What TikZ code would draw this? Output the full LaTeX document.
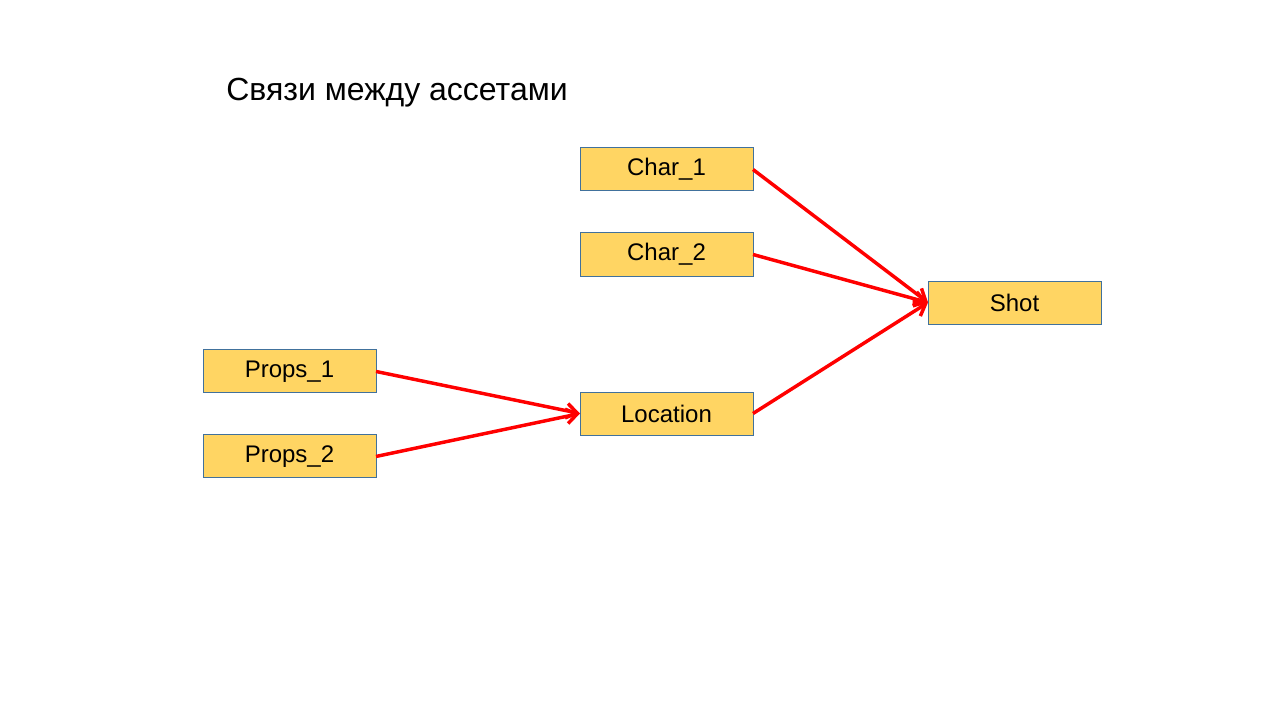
\documentclass[tikz,border=0pt]{standalone}
\usepackage{fontspec}
\setmainfont{Liberation Sans}
\usepackage{xcolor}
\usetikzlibrary{positioning,arrows.meta}

\definecolor{assetfill}{HTML}{FFD563}
\definecolor{assetdraw}{HTML}{41719C}

\begin{document}
\begin{tikzpicture}[
  x=0.75pt, y=-0.75pt,
  font=\fontsize{18pt}{21pt}\selectfont,
  node distance=31.5pt,
  asset/.style={draw=assetdraw, line width=0.75pt, fill=assetfill, outer sep=0pt,
                minimum width=129.75pt, minimum height=32.25pt, inner sep=0pt},
  link/.style={-{Straight Barb[length=8pt,width=11pt]}, line width=2.6pt, draw=red},
]
\useasboundingbox (0,0) rectangle (1280,720);
\node[anchor=west, inner sep=0pt, font=\fontsize{24pt}{28pt}\selectfont] (title) at (226,93) {Связи между ассетами};
\node[asset] (char1) at (666.5,169.5) {Char\_1};
\node[asset, below=of char1] (char2) {Char\_2};
\node[asset, below=87pt of char2] (loc) {Location};
\node[asset, above left=15.4pt and 153pt of loc.west] (props1) {Props\_1};
\node[asset, below=of props1] (props2) {Props\_2};
\node[asset, below right=19.9pt and 131.25pt of char2.east] (shot) {Shot};
\draw[link] (char1.east) -- (shot.west);
\draw[link] (char2.east) -- (shot.west);
\draw[link] (loc.east) -- (shot.west);
\draw[link] (props1.east) -- (loc.west);
\draw[link] (props2.east) -- (loc.west);
\end{tikzpicture}
\end{document}
